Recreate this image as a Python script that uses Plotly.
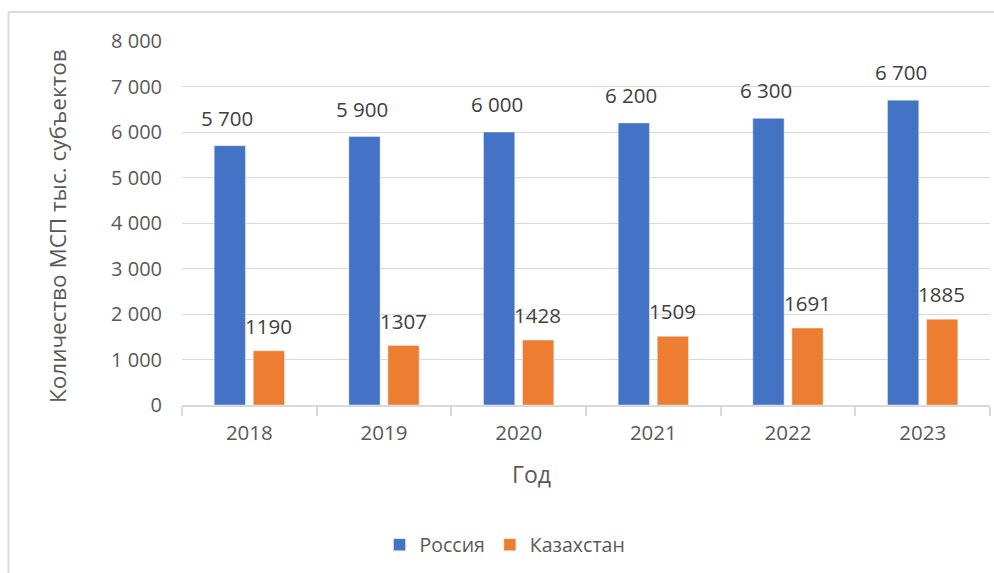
import plotly.graph_objects as go

years = ["2018", "2019", "2020", "2021", "2022", "2023"]
russia = [5700, 5900, 6000, 6200, 6300, 6700]
kazakhstan = [1190, 1307, 1428, 1509, 1691, 1885]
russia_labels = ["5 700", "5 900", "6 000", "6 200", "6 300", "6 700"]
kaz_labels = ["1190", "1307", "1428", "1509", "1691", "1885"]
y_ticks = [0, 1000, 2000, 3000, 4000, 5000, 6000, 7000, 8000]
y_tick_text = ["0", "1 000", "2 000", "3 000", "4 000", "5 000", "6 000", "7 000", "8 000"]

BLUE = "#4472C4"
ORANGE = "#ED7D31"
GREY = "#595959"
FONT = "Open Sans"

fig = go.Figure()
fig.add_trace(go.Bar(x=years, y=russia, name="Россия", marker_color=BLUE))
fig.add_trace(go.Bar(x=years, y=kazakhstan, name="Казахстан", marker_color=ORANGE))

annotations = []
for i, (v, t) in enumerate(zip(russia, russia_labels)):
    annotations.append(dict(x=i, y=v, text=t, showarrow=False, xref="x", yref="y",
                            xshift=-22, yshift=28, font=dict(size=20.5, color="#404040", family=FONT)))
for i, (v, t) in enumerate(zip(kazakhstan, kaz_labels)):
    annotations.append(dict(x=i, y=v, text=t, showarrow=False, xref="x", yref="y",
                            xshift=19, yshift=25, font=dict(size=20.5, color="#404040", family=FONT)))

W, H, L, T = 808.0, 364.0, 182.0, 41.0
def px(x):
    return (x - L) / W
def py(y):
    return (T + H - y) / H

annotations.append(dict(text="Год", x=px(531), y=py(474), xref="paper", yref="paper",
                        xanchor="center", yanchor="middle",
                        showarrow=False, font=dict(size=23, color=GREY, family=FONT)))
annotations.append(dict(text="Количество МСП тыс. субъектов", x=px(57), y=py(226), xref="paper", yref="paper",
                        xanchor="center", yanchor="middle",
                        showarrow=False, textangle=-90, font=dict(size=22.5, color=GREY, family=FONT)))

shapes = [
    dict(type="line", xref="paper", yref="paper", x0=px(8.5), x1=px(8.5), y0=py(12), y1=py(600),
         line=dict(color="#d9d9d9", width=2)),
    dict(type="line", xref="paper", yref="paper", x0=px(8.5), x1=px(1000), y0=py(12), y1=py(12),
         line=dict(color="#d9d9d9", width=2)),
]

fig.update_layout(
    width=994, height=573,
    margin=dict(l=182, r=4, t=41, b=168),
    paper_bgcolor="white", plot_bgcolor="white",
    barmode="group", bargap=0.42, bargroupgap=0.2,
    font=dict(family=FONT, color=GREY, size=18),
    showlegend=True,
    legend=dict(orientation="h", x=px(505), xanchor="center", y=py(545), yanchor="middle",
                font=dict(size=19.5, color=GREY, family=FONT), itemwidth=30, traceorder="normal"),
    annotations=annotations,
    shapes=shapes,
)
fig.update_yaxes(range=[0, 8000], tickvals=y_ticks, ticktext=y_tick_text, showgrid=True,
                 gridcolor="#d9d9d9", gridwidth=1, zeroline=False, showline=False,
                 ticklabelstandoff=19, tickfont=dict(size=20, color=GREY))
fig.update_xaxes(type="category", range=[-0.5, 5.5], showline=True, linecolor="#d9d9d9", linewidth=2,
                 ticks="outside", tickson="boundaries", ticklen=9, tickcolor="#d9d9d9", tickwidth=2,
                 tickfont=dict(size=20.5, color=GREY), ticklabelstandoff=8)

fig.write_html("out.html", config={"displayModeBar": False},
               post_script="document.body.style.margin='0';")
